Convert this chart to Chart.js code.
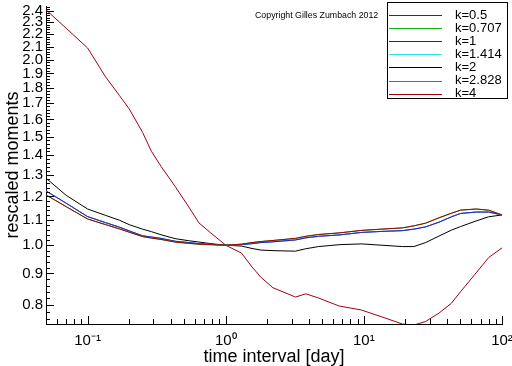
<!DOCTYPE html>
<html>
<head>
<meta charset="utf-8">
<script src="https://cdn.jsdelivr.net/npm/chart.js@4/dist/chart.umd.min.js"></script>
<style>
  html, body { margin: 0; padding: 0; background: #fff; }
</style>
</head>
<body>
<canvas id="myChart" width="512" height="366"></canvas>
<script>
// intervalos de tiempo (dias)
const intervalos = [0.05, 0.07, 0.1, 0.135, 0.17, 0.2, 0.25, 0.29, 0.34, 0.43, 0.54, 0.64, 0.78, 1,
  1.3, 1.55, 1.8, 2.2, 3.2, 3.8, 4.7, 6.6, 9.6, 13.5, 19, 23, 28, 35, 43, 50, 65, 80, 100];

const k05 = [1.207, 1.155, 1.103, 1.08, 1.063, 1.05, 1.033, 1.027, 1.022, 1.012, 1.007, 1.004, 1.002, 1.0,
  1.004, 1.01, 1.014, 1.018, 1.026, 1.034, 1.041, 1.047, 1.057, 1.062, 1.067, 1.075, 1.086, 1.108, 1.127, 1.14, 1.145, 1.14, 1.12];
const k0707 = [1.207, 1.155, 1.103, 1.08, 1.063, 1.05, 1.033, 1.027, 1.022, 1.012, 1.007, 1.004, 1.002, 1.0,
  1.004, 1.01, 1.014, 1.018, 1.026, 1.034, 1.041, 1.047, 1.057, 1.062, 1.067, 1.075, 1.086, 1.108, 1.127, 1.14, 1.145, 1.14, 1.12];
const k1 = [1.225, 1.17, 1.113, 1.088, 1.07, 1.055, 1.036, 1.031, 1.026, 1.015, 1.01, 1.006, 1.003, 1.0,
  1.002, 1.006, 1.01, 1.013, 1.02, 1.028, 1.034, 1.039, 1.049, 1.053, 1.056, 1.062, 1.071, 1.09, 1.112, 1.126, 1.132, 1.132, 1.12];
const k1414 = [1.225, 1.17, 1.113, 1.088, 1.07, 1.055, 1.036, 1.031, 1.026, 1.015, 1.01, 1.006, 1.003, 1.0,
  1.002, 1.006, 1.01, 1.013, 1.02, 1.028, 1.034, 1.039, 1.049, 1.053, 1.056, 1.062, 1.071, 1.09, 1.112, 1.126, 1.132, 1.132, 1.12];
const k2 = [1.285, 1.205, 1.145, 1.118, 1.098, 1.08, 1.062, 1.052, 1.04, 1.025, 1.017, 1.012, 1.006, 1.0,
  0.997, 0.988, 0.982, 0.98, 0.978, 0.987, 0.995, 1.002, 1.005, 1.0, 0.995, 0.995, 1.01, 1.035, 1.058, 1.072, 1.095, 1.112, 1.12];
const k2828 = [1.225, 1.17, 1.113, 1.088, 1.07, 1.055, 1.036, 1.031, 1.026, 1.015, 1.01, 1.006, 1.003, 1.0,
  1.002, 1.006, 1.01, 1.013, 1.02, 1.028, 1.034, 1.039, 1.049, 1.053, 1.056, 1.062, 1.071, 1.09, 1.112, 1.126, 1.132, 1.132, 1.12];
const k4 = [2.41, 2.25, 2.09, 1.876, 1.75, 1.665, 1.525, 1.42, 1.343, 1.246, 1.154, 1.087, 1.047, 1.0,
  0.971, 0.922, 0.887, 0.853, 0.824, 0.834, 0.821, 0.797, 0.785, 0.765, 0.745, 0.742, 0.752, 0.776, 0.805, 0.84, 0.902, 0.955, 0.99];

const etiquetas = ['k=0.5', 'k=0.707', 'k=1', 'k=1.414', 'k=2', 'k=2.828', 'k=4'];
const colores = ['#a00010', '#10b010', '#2020b0', '#30e0e0', '#000000', '#d020d0', '#a00010'];

const ticksX = [0.1, 1, 10, 100];
const etiquetasX = ['10\u207B\u00B9', '10\u2070', '10\u00B9', '10\u00B2'];
const ticksY = [0.8, 0.9, 1.0, 1.1, 1.2, 1.3, 1.4, 1.5, 1.6, 1.7, 1.8, 1.9, 2.0, 2.1, 2.2, 2.3, 2.4];

const series = [k05, k0707, k1, k1414, k2, k2828, k4];

const datasets = series.map((valores, i) => ({
  label: etiquetas[i],
  data: intervalos.map((t, j) => ({ x: t, y: valores[j] })),
  borderColor: colores[i],
  borderWidth: 1,
  pointRadius: 0,
  tension: 0,
  fill: false
}));

// marcas de escala hacia dentro, leyenda y copyright
const decorado = {
  id: 'decorado',
  afterDraw(chart) {
    const { ctx, chartArea, scales: { x, y } } = chart;
    ctx.save();
    ctx.strokeStyle = '#000';
    ctx.lineWidth = 1;
    ctx.beginPath();
    [0.01, 0.1, 1, 10, 100].forEach(d => {
      for (let m = 1; m < 10; m++) {
        const v = m * d;
        if (v < x.min * 0.9999 || v > x.max * 1.0001) continue;
        const px = Math.round(x.getPixelForValue(v)) + 0.5;
        const largo = m === 1 ? 8 : 5;
        ctx.moveTo(px, chartArea.bottom);
        ctx.lineTo(px, chartArea.bottom - largo);
      }
    });
    for (let i = 76; i <= 244; i += 2) {
      const py = Math.round(y.getPixelForValue(i / 100)) + 0.5;
      const largo = i % 10 === 0 ? 8 : 4;
      ctx.moveTo(chartArea.left, py);
      ctx.lineTo(chartArea.left + largo, py);
    }
    ctx.stroke();

    // leyenda
    ctx.fillStyle = '#fff';
    ctx.fillRect(387, 2, 121, 97);
    ctx.strokeStyle = '#000';
    ctx.strokeRect(387.5, 2.5, 120, 96);
    ctx.font = '13px "Liberation Sans", Arial, sans-serif';
    ctx.textBaseline = 'middle';
    etiquetas.forEach((et, i) => {
      const yy = 15 + i * 13.1;
      ctx.beginPath();
      ctx.strokeStyle = colores[i];
      ctx.moveTo(389, Math.round(yy) + 0.5);
      ctx.lineTo(442, Math.round(yy) + 0.5);
      ctx.stroke();
      ctx.fillStyle = '#000';
      ctx.fillText(et, 455, yy);
    });

    ctx.font = '8.8px "Liberation Sans", Arial, sans-serif';
    ctx.fillText('Copyright Gilles Zumbach 2012', 255, 16);
    ctx.restore();
  }
};

const ctx = document.getElementById('myChart').getContext('2d');
new Chart(ctx, {
  type: 'line',
  data: { datasets: datasets },
  plugins: [decorado],
  options: {
    responsive: false,
    animation: false,
    layout: { padding: { top: 6, right: 10, left: 0, bottom: 0 } },
    plugins: { legend: { display: false }, tooltip: { enabled: false } },
    scales: {
      x: {
        type: 'logarithmic',
        bounds: 'data',
        min: 0.05,
        max: 100,
        afterBuildTicks: s => { s.ticks = ticksX.map(v => ({ value: v })); },
        afterFit: s => { s.height = 42; s.paddingLeft = 0; s.paddingRight = 0; },
        grid: { display: false, drawTicks: false },
        border: { display: true, color: '#000', width: 1 },
        ticks: {
          padding: 8,
          color: '#000',
          maxRotation: 0,
          font: { family: '"Liberation Sans", Arial, sans-serif', size: 15 },
          callback: (v) => etiquetasX[ticksX.indexOf(v)]
        },
        title: {
          display: true,
          text: 'time interval [day]',
          color: '#000',
          padding: { top: 0, bottom: 0 },
          font: { family: '"Liberation Sans", Arial, sans-serif', size: 18, lineHeight: 1 }
        }
      },
      y: {
        type: 'logarithmic',
        bounds: 'data',
        min: 0.745,
        max: 2.445,
        afterBuildTicks: s => { s.ticks = ticksY.map(v => ({ value: v })); },
        afterFit: s => { s.width = 46; s.paddingTop = 0; s.paddingBottom = 0; },
        grid: { display: false, drawTicks: false },
        border: { display: true, color: '#000', width: 1 },
        ticks: {
          padding: 3,
          color: '#000',
          autoSkip: false,
          font: { family: '"Liberation Sans", Arial, sans-serif', size: 15 },
          callback: (v) => Number(v).toFixed(1)
        },
        title: {
          display: true,
          text: 'rescaled moments',
          color: '#000',
          padding: { top: 4, bottom: 0 },
          font: { family: '"Liberation Sans", Arial, sans-serif', size: 18, lineHeight: 1 }
        }
      }
    }
  }
});
</script>
</body>
</html>
